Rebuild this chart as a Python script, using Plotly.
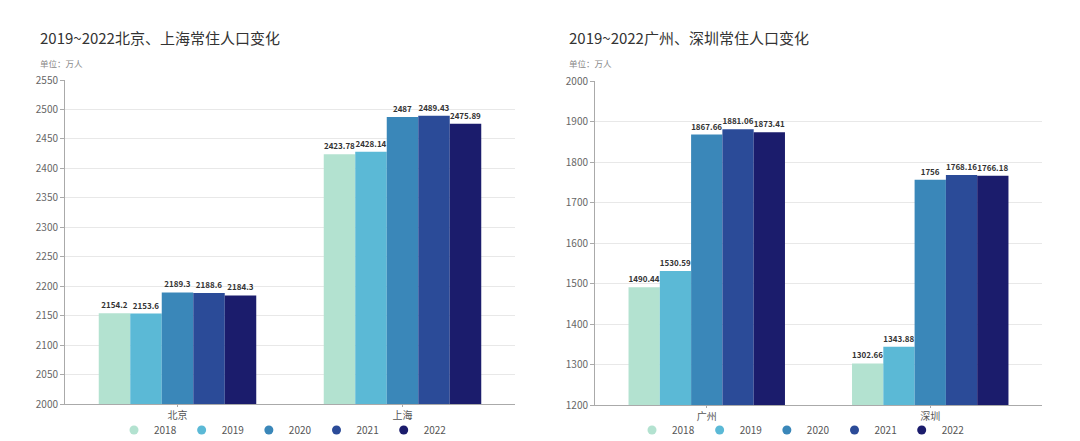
import plotly.graph_objects as go
from plotly.subplots import make_subplots

# Data
years = ['2018', '2019', '2020', '2021', '2022']
colors = ['#b3e2d0', '#5bb9d6', '#3a87b9', '#2b4b98', '#1b1c6c']

cities_left = ['北京', '上海']
beijing = [2154.2, 2153.6, 2189.3, 2188.6, 2184.3]
shanghai = [2423.78, 2428.14, 2487, 2489.43, 2475.89]

cities_right = ['广州', '深圳']
guangzhou = [1490.44, 1530.59, 1867.66, 1881.06, 1873.41]
shenzhen = [1302.66, 1343.88, 1756, 1768.16, 1766.18]

left_ticks = list(range(2000, 2551, 50))
right_ticks = list(range(1200, 2001, 100))

FONT = 'Noto Sans CJK SC'
W, H = 1080, 441
OFF = 8  # page body margin


def px(x):
    return (x - OFF) / W


def py(y):
    return 1 - (y - OFF) / H


fig = make_subplots(rows=1, cols=2)

for i, yr in enumerate(years):
    vals_l = [beijing[i], shanghai[i]]
    vals_r = [guangzhou[i], shenzhen[i]]
    fig.add_trace(go.Bar(
        x=cities_left, y=vals_l, name=yr, marker_color=colors[i], marker_line_width=0,
        text=[f'{v:g}' for v in vals_l], textposition='outside', cliponaxis=False,
        textfont=dict(size=8, color='#333333', family=FONT, weight='bold'),
        showlegend=False,
    ), row=1, col=1)
    fig.add_trace(go.Bar(
        x=cities_right, y=vals_r, name=yr, marker_color=colors[i], marker_line_width=0,
        text=[f'{v:g}' for v in vals_r], textposition='outside', cliponaxis=False,
        textfont=dict(size=8, color='#333333', family=FONT, weight='bold'),
        showlegend=False,
    ), row=1, col=2)
    # legend entries with round markers
    fig.add_trace(go.Scatter(
        x=[None], y=[None], mode='markers', name=yr,
        marker=dict(color=colors[i], size=9, symbol='circle'),
        legend='legend',
    ), row=1, col=1)
    fig.add_trace(go.Scatter(
        x=[None], y=[None], mode='markers', name=yr,
        marker=dict(color=colors[i], size=9, symbol='circle'),
        legend='legend2',
    ), row=1, col=2)

legend_style = dict(orientation='h', xanchor='center', y=py(430),
                    yanchor='middle', font=dict(size=10, color='#555555'),
                    itemwidth=30, bgcolor='rgba(0,0,0,0)')

fig.update_layout(
    width=W, height=H,
    margin=dict(l=0, r=0, t=0, b=0, autoexpand=False),
    plot_bgcolor='white', paper_bgcolor='white',
    font=dict(family=FONT, color='#666666', size=10),
    barmode='group', bargap=0.3, bargroupgap=0,
    xaxis=dict(domain=[px(65), px(515)]),
    xaxis2=dict(domain=[px(595), px(1042)]),
    yaxis=dict(domain=[py(404), py(80)], range=[2000, 2550], tickvals=left_ticks),
    yaxis2=dict(domain=[py(405), py(81)], range=[1200, 2000], tickvals=right_ticks),
    legend=dict(x=px(283), **legend_style),
    legend2=dict(x=px(801), **legend_style),
)

fig.update_xaxes(showline=True, linecolor='#aaaaaa', linewidth=1, ticks='outside',
                 ticklen=2, tickcolor='#aaaaaa', showgrid=False, automargin=False,
                 tickfont=dict(size=10, color='#555555'))
fig.update_yaxes(showline=True, linecolor='#aaaaaa', linewidth=1, ticks='outside',
                 ticklen=4, tickcolor='#aaaaaa', showgrid=True, gridcolor='#e8e8e8',
                 zeroline=False, automargin=False, tickfont=dict(size=10, color='#666666'))

titles = [
    ('2019~2022北京、上海常住人口变化', 38),
    ('2019~2022广州、深圳常住人口变化', 567),
]
for text, xpos in titles:
    fig.add_annotation(text=text, x=px(xpos), y=py(38), xref='paper', yref='paper',
                       xanchor='left', yanchor='middle', showarrow=False,
                       font=dict(size=15, color='#333333', family=FONT))
    fig.add_annotation(text='单位：万人', x=px(xpos), y=py(63), xref='paper',
                       yref='paper', xanchor='left', yanchor='middle', showarrow=False,
                       font=dict(size=8.5, color='#888888', family=FONT))

fig.write_html('out.html')
